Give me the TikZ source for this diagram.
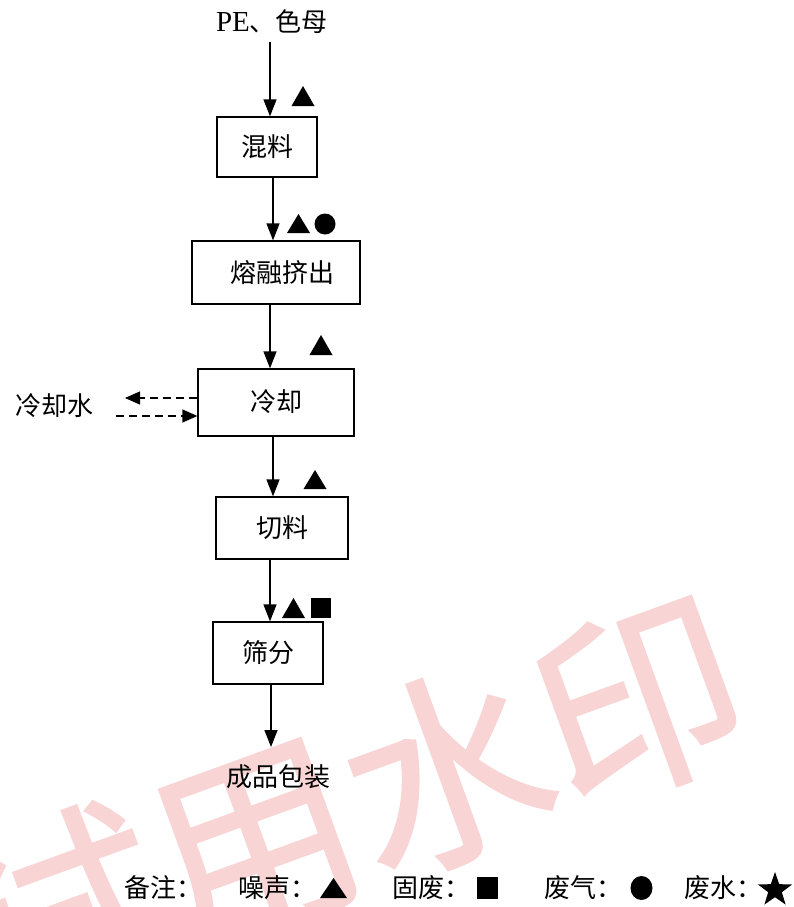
\documentclass[tikz,border=0pt]{standalone}
\usepackage{fontspec}
\setmainfont{Liberation Serif}
\newfontfamily\cjk{Noto Sans CJK SC}
\newfontfamily\wmfont[FakeBold=1.2]{Noto Sans CJK SC}
\usetikzlibrary{arrows.meta,shapes.geometric,calc}
\definecolor{wmred}{RGB}{248,212,212}
\tikzset{
  procbox/.style={draw, line width=1.3pt, inner sep=0pt, font=\cjk\fontsize{26}{26}\selectfont},
  lbl/.style={inner sep=0pt, font=\cjk\fontsize{26}{26}\selectfont},
  flow/.style={line width=1.4pt, -{Triangle[length=17pt,width=13pt]}},
  dflow/.style={line width=1.3pt, dash pattern=on 8pt off 5pt, -{Triangle[length=15pt,width=13pt]}},
  sym/.style={fill=black}
}
\begin{document}
\begin{tikzpicture}[x=1pt,y=-1pt]
\useasboundingbox (0,0) rectangle (793,907);
% watermark
\begin{scope}
\clip (0,0) rectangle (793,907);
\node[rotate=20, text=wmred, inner sep=0pt, font=\wmfont\fontsize{205}{205}\selectfont] (wm) at (350,806) {试用水印};
\end{scope}
% input / output texts
\node[inner sep=0pt, font=\fontsize{29}{29}\selectfont] (in) at (272,22) {PE{\cjk\fontsize{26}{26}\selectfont 、色母}};
\node[procbox, minimum width=100pt, minimum height=60pt] (mix) at (267,147) {混料};
\node[procbox, minimum width=168pt, minimum height=63pt] (melt) at (276,272.5) {\hspace{12pt}熔融挤出};
\node[procbox, minimum width=156pt, minimum height=67pt] (cool) at (276,402.5) {\raisebox{4pt}{冷却}};
\node[procbox, minimum width=132pt, minimum height=62pt] (cut) at (282,528) {切料};
\node[procbox, minimum width=110pt, minimum height=62pt] (sieve) at (268,653) {筛分};
\node[lbl] (pack) at (278,777) {成品包装};
\node[lbl] (water) at (55,406) {冷却水};
% arrow x positions
\coordinate (x1) at (270,0);
\coordinate (x2) at (273,0);
\coordinate (x3) at (270,0);
\coordinate (x4) at (273,0);
\coordinate (x5) at (270,0);
\coordinate (x6) at (271,0);
\coordinate (inb) at (270,42);
\coordinate (packt) at (271,747);
\draw[flow] (inb) -- (mix.north -| x1);
\draw[flow] (mix.south -| x2) -- (melt.north -| x2);
\draw[flow] (melt.south -| x3) -- (cool.north -| x3);
\draw[flow] (cool.south -| x4) -- (cut.north -| x4);
\draw[flow] (cut.south -| x5) -- (sieve.north -| x5);
\draw[flow] (sieve.south -| x6) -- (packt);
% cooling water dashed
\coordinate (wout) at (125,398);
\coordinate (win) at (116,416);
\draw[dflow] (cool.west |- wout) -- (wout);
\draw[dflow] (win) -- (cool.west |- win);
% pollution symbols
\fill[sym] (291.5,106) -- (314.5,106) -- (303,86) -- cycle;
\fill[sym] (287,233) -- (310,233) -- (298.5,214) -- cycle;
\fill[sym] (325,224) circle (10.5);
\fill[sym] (309.5,355) -- (332.5,355) -- (321,335) -- cycle;
\fill[sym] (303.5,489) -- (326.5,489) -- (315,470) -- cycle;
\fill[sym] (282,618) -- (305,618) -- (293.5,598) -- cycle;
\fill[sym] (311,598) rectangle (331,618);
% legend
\node[lbl, anchor=west] (note) at (124,888) {备注：};
\node[lbl, anchor=west] (noise) at (238,888) {噪声：};
\fill[sym] (320,898) -- (347,898) -- (333.5,878) -- cycle;
\node[lbl, anchor=west] (solid) at (392,888) {固废：};
\fill[sym] (477,877) rectangle (498,899);
\node[lbl, anchor=west] (gas) at (544,888) {废气：};
\fill[sym] (641.5,888) ellipse (11 and 12);
\node[lbl, anchor=west] (ww) at (684,888) {废水：};
\node[star, star points=5, star point ratio=2.5, fill=black, inner sep=0pt, minimum size=36pt] (starsym) at (775,890) {};
\end{tikzpicture}
\end{document}
